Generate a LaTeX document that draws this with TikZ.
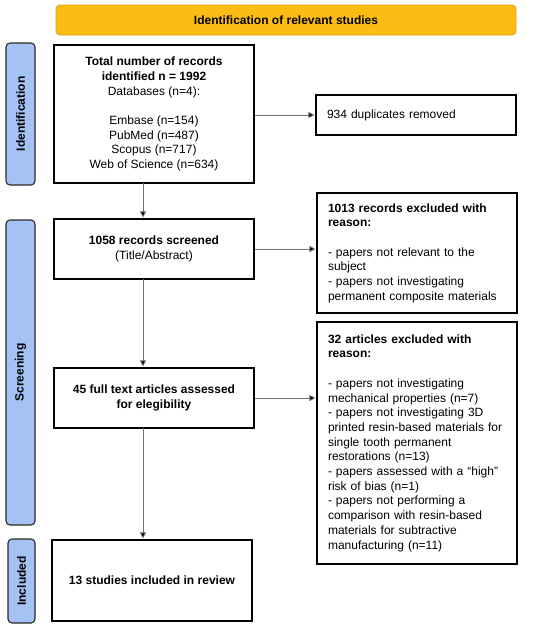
\documentclass[tikz,border=0pt]{standalone}
\usepackage{fontspec}
\setmainfont{Liberation Sans}
\usetikzlibrary{arrows.meta}
\definecolor{titleyellow}{HTML}{FBBC14}
\definecolor{titleedge}{HTML}{D9A010}
\definecolor{sideblue}{HTML}{A4C2F4}
\definecolor{sideedge}{HTML}{2A2A2A}
\definecolor{arrowgray}{HTML}{707070}
\tikzset{
  box/.style={draw=black, line width=1.1pt, fill=white, inner sep=0pt, font=\fontsize{12}{14.7}\selectfont},
  cbox/.style={box, align=center},
  lbox/.style={box, align=left, text width=178pt},
  side/.style={draw=sideedge, line width=1.1pt, fill=sideblue, rounded corners=4pt, font=\fontsize{12}{14.7}\selectfont\bfseries, rotate=90, inner sep=0pt},
  titlebar/.style={draw=titleedge, line width=0.8pt, fill=titleyellow, rounded corners=4pt, font=\fontsize{12}{14.7}\selectfont\bfseries, inner sep=0pt},
  conn/.style={draw=arrowgray, line width=0.8pt, shorten >=1pt, -{Triangle[length=6pt,width=6pt,fill=black]}}
}
\begin{document}
\begin{tikzpicture}[x=1pt,y=-1pt]
\useasboundingbox (0,0) rectangle (550,629);
\fill[white] (0,0) rectangle (550,629);
% title
\node[titlebar, minimum width=460pt, minimum height=30pt] (title) at (286,20) {Identification of relevant studies};
% side labels
\node[side, minimum width=142pt, minimum height=29pt] (sid) at (20.5,114) {Identification};
\node[side, minimum width=305pt, minimum height=29pt] (sscr) at (20.5,372.5) {Screening};
\node[side, minimum width=84pt, minimum height=27pt] (sinc) at (21.5,581) {Included};
% main boxes
\node[cbox, minimum width=200pt, minimum height=138pt] (total) at (154,114)
 {\textbf{Total number of records}\\\textbf{identified n = 1992}\\Databases (n=4):\\[14.7pt]Embase (n=154)\\PubMed (n=487)\\Scopus (n=717)\\Web of Science (n=634)};
\node[cbox, minimum width=200pt, minimum height=60pt] (screen) at (154,249)
 {\textbf{1058 records screened}\\(Title/Abstract)};
\node[cbox, minimum width=200pt, minimum height=60pt] (full) at (154,398)
 {\textbf{45 full text articles assessed}\\\textbf{for elegibility}};
\node[cbox, minimum width=200pt, minimum height=81pt] (incl) at (152,580.5)
 {\textbf{13 studies included in review}};
% right boxes
\node[lbox, minimum width=200pt, minimum height=40pt] (dup) at (416,115)
 {934 duplicates removed};
\node[lbox, minimum width=200pt, minimum height=120pt] (exc1) at (417,253)
 {\textbf{1013 records excluded with}\\\textbf{reason:}\\[14.7pt]- papers not relevant to the\\subject\\- papers not investigating\\permanent composite materials};
\node[lbox, minimum width=200pt, minimum height=242pt] (exc2) at (417,443)
 {\textbf{32 articles excluded with}\\\textbf{reason:}\\[14.7pt]- papers not investigating\\mechanical properties (n=7)\\- papers not investigating 3D\\printed resin-based materials for\\single tooth permanent\\restorations (n=13)\\- papers assessed with a ``high''\\risk of bias (n=1)\\- papers not performing a\\comparison with resin-based\\materials for subtractive\\manufacturing (n=11)};
% connectors
\coordinate (a1) at (143,183);
\coordinate (a2) at (143,279);
\coordinate (a3) at (143,428);
\draw[conn] (a1) -- (a1 |- screen.north);
\draw[conn] (a2) -- (a2 |- full.north);
\draw[conn] (a3) -- (a3 |- incl.north);
\draw[conn] (total.east |- dup.west) -- (dup.west);
\draw[conn] (screen.east) -- (screen.east -| exc1.west);
\draw[conn] (full.east) -- (full.east -| exc2.west);
\end{tikzpicture}
\end{document}
